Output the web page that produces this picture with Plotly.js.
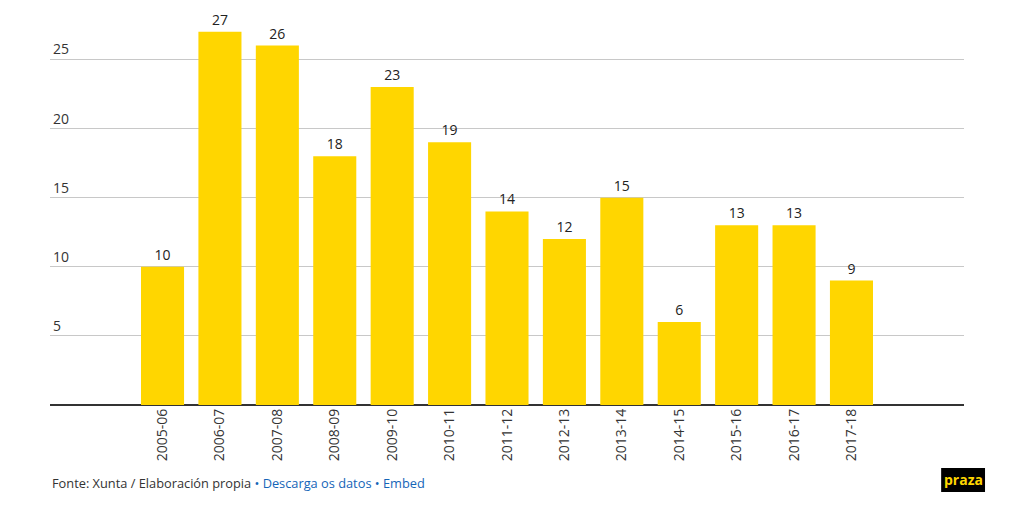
<!DOCTYPE html>
<html>
<head>
<meta charset="utf-8">
<script src="https://cdn.plot.ly/plotly-3.0.1.min.js"></script>
<style>html,body{margin:0;padding:0;background:#fff;}#chart{width:1024px;height:506px;}</style>
</head>
<body>
<div id="chart"></div>
<script>
const seasons = ["2005-06","2006-07","2007-08","2008-09","2009-10","2010-11","2011-12","2012-13","2013-14","2014-15","2015-16","2016-17","2017-18"];
const counts = [10,27,26,18,23,19,14,12,15,6,13,13,9];
const yTicks = [5,10,15,20,25];

const trace = {
  type: 'bar',
  x: seasons,
  y: counts,
  marker: {color: '#FFD600'},
  text: counts.map(String),
  textposition: 'outside',
  textfont: {family: 'Open Sans, sans-serif', size: 14, color: '#222'},
  cliponaxis: false,
  hoverinfo: 'x+y'
};

const layout = {
  width: 1024, height: 506,
  margin: {l: 50, r: 60, t: 11, b: 101},
  paper_bgcolor: '#fff', plot_bgcolor: '#fff',
  showlegend: false,
  bargap: 0.25,
  font: {family: 'Open Sans, sans-serif', color: '#333'},
  xaxis: {
    type: 'category',
    range: [-1.96, 13.96],
    tickangle: -90,
    tickfont: {size: 14, color: '#333'},
    showgrid: false,
    ticks: '',
    showline: false,
    fixedrange: true
  },
  yaxis: {
    range: [0, 28.5],
    tickvals: yTicks,
    ticktext: yTicks.map(String),
    ticklabelposition: 'inside top',
    tickfont: {size: 14, color: '#333'},
    showgrid: true,
    gridcolor: '#c8c8c8',
    gridwidth: 1,
    zeroline: true,
    zerolinecolor: '#333',
    zerolinewidth: 1.5,
    showline: false,
    ticks: '',
    fixedrange: true
  },
  shapes: [
    {type: 'rect', xref: 'paper', yref: 'paper', x0: 0.975, x1: 1.023, y0: -0.2208, y1: -0.16,
     fillcolor: '#000', line: {width: 0}}
  ],
  annotations: [
    {xref: 'paper', yref: 'paper', x: 0, y: -0.198, xanchor: 'left', yanchor: 'middle', showarrow: false,
     align: 'left',
     text: 'Fonte: Xunta / Elaboración propia <span style="color:#1565b8">• Descarga os datos • Embed</span>',
     font: {size: 12.8, color: '#333', family: 'Open Sans, sans-serif'}},
    {xref: 'paper', yref: 'paper', x: 0.999, y: -0.188, xanchor: 'center', yanchor: 'middle', showarrow: false,
     text: '<b>praza</b>', font: {size: 14, color: '#FFD600', family: 'Open Sans, sans-serif'}}
  ]
};

Plotly.newPlot('chart', [trace], layout, {displayModeBar: false, staticPlot: false});
</script>
</body>
</html>
